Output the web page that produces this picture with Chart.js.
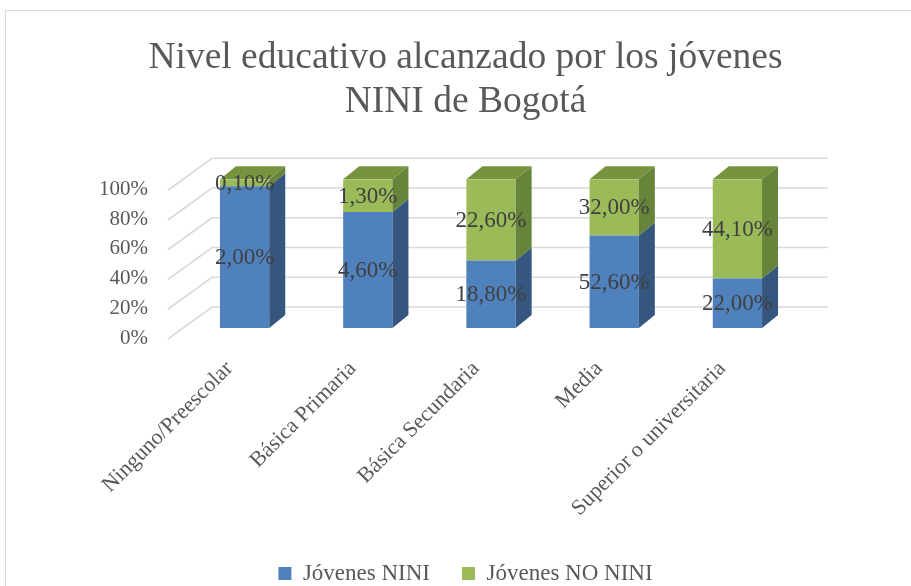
<!DOCTYPE html>
<html>
<head>
<meta charset="utf-8">
<script src="https://cdn.jsdelivr.net/npm/chart.js@4.4.1/dist/chart.umd.min.js"></script>
<style>
  html, body { margin: 0; padding: 0; background: #fff; overflow: hidden; }
  #grafico { display: block; }
</style>
</head>
<body>
<canvas id="grafico" width="911" height="586"></canvas>
<script>
// Datos del gráfico
const categorias = ['Ninguno/Preescolar', 'Básica Primaria', 'Básica Secundaria', 'Media', 'Superior o universitaria'];
const jovenesNini = [2.00, 4.60, 18.80, 52.60, 22.00];
const jovenesNoNini = [0.10, 1.30, 22.60, 32.00, 44.10];
const ticksPct = [0, 20, 40, 60, 80, 100];

// Columnas apiladas al 100%
const totales = jovenesNini.map((v, i) => v + jovenesNoNini[i]);
const pctNini = jovenesNini.map((v, i) => v / totales[i] * 100);
const pctNoNini = jovenesNoNini.map((v, i) => v / totales[i] * 100);

const FUENTE = "'Liberation Serif', 'Times New Roman', serif";
const DX = 16, DY = 13;
const lados = ['#34567f', '#66843a'];
const techos = ['#3d6496', '#76933d'];

// Efecto 3D: paredes, caras laterales, techos y etiquetas
const efecto3d = {
  id: 'efecto3d',
  beforeDraw(chart) {
    const ctx = chart.ctx;
    ctx.save();
    ctx.strokeStyle = '#d9d9d9';
    ctx.lineWidth = 1;
    ctx.strokeRect(5.5, 10.5, 1000, 1000);
    ctx.restore();
  },
  beforeDatasetsDraw(chart) {
    const { ctx, chartArea: a, scales: { y } } = chart;
    ctx.save();
    ctx.strokeStyle = '#d9d9d9';
    ctx.lineWidth = 1.6;
    ticksPct.forEach(v => {
      const p = y.getPixelForValue(v);
      ctx.beginPath();
      ctx.moveTo(a.left - 15, p + 11);
      ctx.lineTo(a.left + 29, p - 21);
      ctx.lineTo(a.right + 29, p - 21);
      ctx.stroke();
    });
    ctx.restore();
  },
  afterDatasetsDraw(chart) {
    const ctx = chart.ctx;
    const nSeries = chart.data.datasets.length;
    ctx.save();
    chart.data.datasets.forEach((ds, d) => {
      const meta = chart.getDatasetMeta(d);
      meta.data.forEach(bar => {
        const w = bar.width;
        const left = bar.x - w / 2, right = bar.x + w / 2;
        const top = Math.min(bar.y, bar.base), bot = Math.max(bar.y, bar.base);
        ctx.fillStyle = lados[d];
        ctx.beginPath();
        ctx.moveTo(right, top);
        ctx.lineTo(right + DX, top - DY);
        ctx.lineTo(right + DX, bot - DY);
        ctx.lineTo(right, bot);
        ctx.closePath();
        ctx.fill();
        if (d === nSeries - 1) {
          ctx.fillStyle = techos[d];
          ctx.beginPath();
          ctx.moveTo(left, top);
          ctx.lineTo(left + DX, top - DY);
          ctx.lineTo(right + DX, top - DY);
          ctx.lineTo(right, top);
          ctx.closePath();
          ctx.fill();
        }
      });
    });
    // etiquetas de datos
    ctx.font = '23px ' + FUENTE;
    ctx.fillStyle = '#404040';
    ctx.textAlign = 'center';
    ctx.textBaseline = 'middle';
    const valores = [jovenesNini, jovenesNoNini];
    chart.data.datasets.forEach((ds, d) => {
      const meta = chart.getDatasetMeta(d);
      meta.data.forEach((bar, i) => {
        const yc = (bar.y + bar.base) / 2;
        const txt = valores[d][i].toFixed(2).replace('.', ',') + '%';
        ctx.fillText(txt, bar.x, yc + 1);
      });
    });
    ctx.restore();
  }
};

new Chart(document.getElementById('grafico'), {
  type: 'bar',
  data: {
    labels: categorias,
    datasets: [
      { label: 'Jóvenes NINI', data: pctNini, backgroundColor: '#4f81bd', borderWidth: 0 },
      { label: 'Jóvenes NO NINI', data: pctNoNini, backgroundColor: '#9bbb59', borderWidth: 0 }
    ]
  },
  options: {
    responsive: false,
    animation: false,
    devicePixelRatio: 1,
    layout: { padding: { left: 20, right: 0, top: 0, bottom: -9 } },
    datasets: { bar: { categoryPercentage: 0.8, barPercentage: 0.5 } },
    plugins: {
      title: {
        display: true,
        text: ['Nivel educativo alcanzado por los jóvenes', 'NINI de Bogotá'],
        color: '#595959',
        font: { family: FUENTE, size: 37.5, weight: 'normal', lineHeight: 1.15 },
        padding: { top: 37, bottom: 56 }
      },
      legend: {
        position: 'bottom',
        labels: {
          color: '#595959',
          font: { family: FUENTE, size: 23 },
          boxWidth: 13,
          boxHeight: 13,
          padding: 32
        }
      },
      tooltip: { enabled: false }
    },
    scales: {
      x: {
        stacked: true,
        grid: { display: false, drawTicks: false },
        border: { display: false },
        ticks: {
          color: '#595959',
          font: { family: FUENTE, size: 22 },
          minRotation: 45,
          maxRotation: 45,
          padding: 28,
          labelOffset: -15
        },
        afterFit: s => { s.height = 202; }
      },
      y: {
        stacked: true,
        min: 0,
        max: 100,
        grid: { display: false, drawTicks: false },
        border: { display: false },
        ticks: {
          stepSize: 20,
          color: '#595959',
          font: { family: FUENTE, size: 21 },
          padding: 35,
          labelOffset: 10,
          callback: v => v + '%'
        },
        afterFit: s => { s.width = 163; }
      },
      yDer: {
        position: 'right',
        display: true,
        min: 0,
        max: 100,
        grid: { display: false, drawTicks: false },
        border: { display: false },
        ticks: { display: false },
        afterFit: s => { s.width = 112; }
      }
    }
  },
  plugins: [efecto3d]
});
</script>
</body>
</html>
